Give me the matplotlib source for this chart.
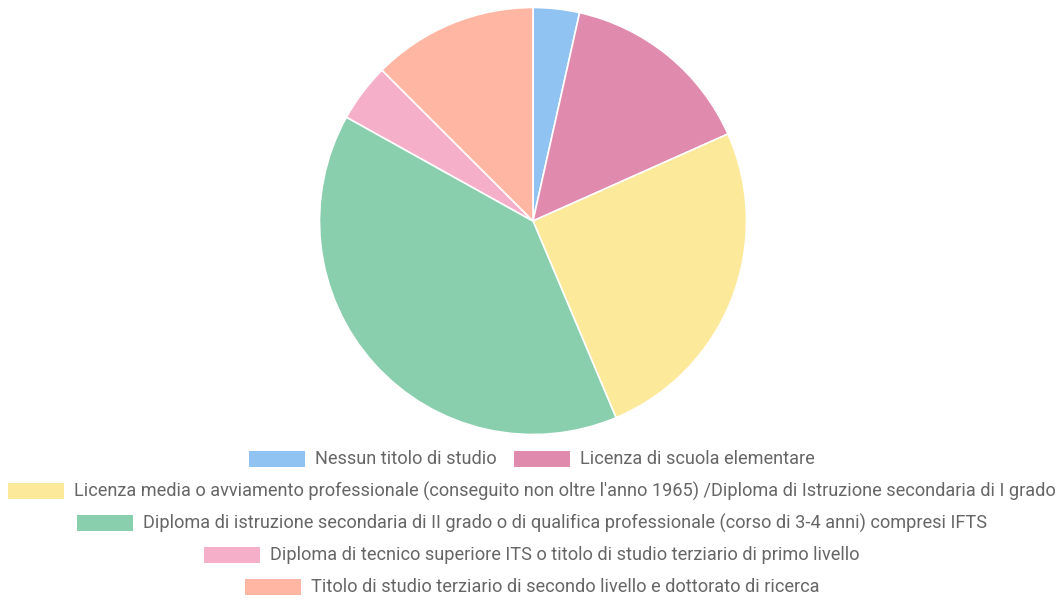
import matplotlib.pyplot as plt
from matplotlib.patches import Rectangle

plt.rcParams['font.family'] = ['Roboto', 'DejaVu Sans']

# Titolo di studio - quota percentuale
labels = [
    'Nessun titolo di studio',
    'Licenza di scuola elementare',
    "Licenza media o avviamento professionale (conseguito non oltre l'anno 1965) /Diploma di Istruzione secondaria di I grado",
    'Diploma di istruzione secondaria di II grado o di qualifica professionale (corso di 3-4 anni) compresi IFTS',
    'Diploma di tecnico superiore ITS o titolo di studio terziario di primo livello',
    'Titolo di studio terziario di secondo livello e dottorato di ricerca',
]
values = [3.5, 14.8, 25.3, 39.4, 4.4, 12.5]
colors = ['#90c3f1', '#e08aad', '#fde99a', '#89cead', '#f6afc9', '#ffb6a3']

# legend rows (indices into labels)
legend_rows = [[0, 1], [2], [3], [4], [5]]

W, H = 1063, 601
fig = plt.figure(figsize=(W / 100, H / 100), dpi=100)

cx, cy, r = 533, 221, 213.5
ax = fig.add_axes([(cx - r) / W, (H - cy - r) / H, 2 * r / W, 2 * r / H])
ax.pie(values, colors=colors, startangle=90, counterclock=False,
       wedgeprops=dict(edgecolor='white', linewidth=1.2), radius=1)
ax.set_xlim(-1, 1)
ax.set_ylim(-1, 1)
ax.set_aspect('equal')
ax.axis('off')

# legend drawn by hand, rows centred under the pie
renderer = fig.canvas.get_renderer()
sw_w, sw_h, gap, sep = 56, 16, 10, 18
row_y = [459, 491, 523, 555, 587]
fs = 13.1
for row, y in zip(legend_rows, row_y):
    texts = []
    widths = []
    for i in row:
        t = fig.text(0, 0, labels[i], fontsize=fs, color='#666666', va='center', ha='left')
        texts.append(t)
        widths.append(t.get_window_extent(renderer).width)
    total = sum(sw_w + gap + w for w in widths) + sep * (len(row) - 1)
    x = cx - 1 - total / 2
    for i, t, w in zip(row, texts, widths):
        fig.add_artist(Rectangle((x / W, (H - y - sw_h / 2) / H), sw_w / W, sw_h / H,
                                 transform=fig.transFigure, facecolor=colors[i],
                                 edgecolor='none'))
        t.set_position(((x + sw_w + gap) / W, (H - y) / H))
        x += sw_w + gap + w + sep

fig.savefig('out.png', dpi=100, facecolor='white')
